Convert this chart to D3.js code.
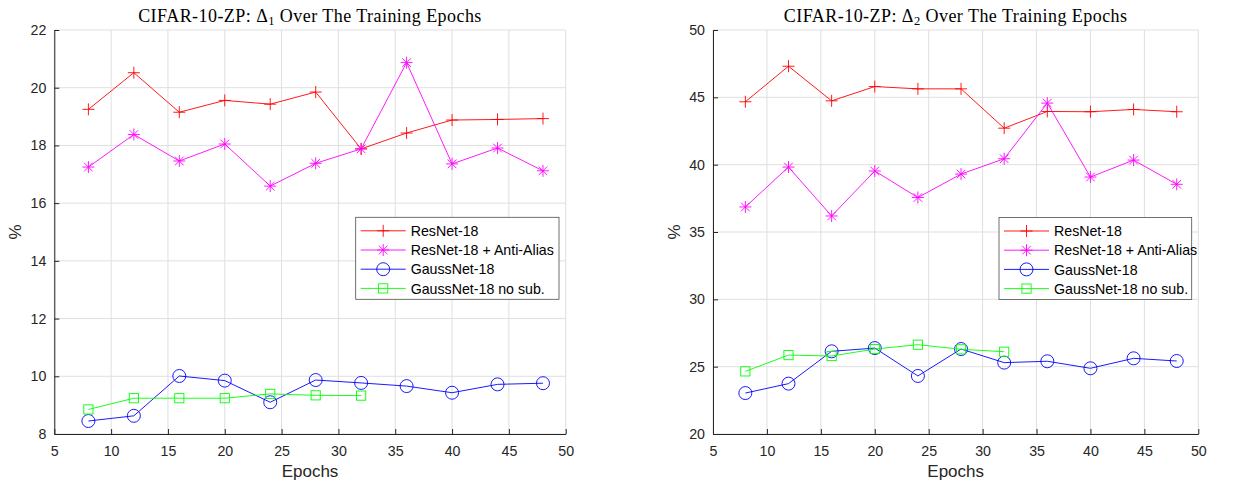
<!DOCTYPE html>
<html>
<head>
<meta charset="utf-8">
<script src="https://cdn.jsdelivr.net/npm/d3@7"></script>
<style>
  html, body { margin: 0; padding: 0; background: #fff; }
  svg { display: block; }
</style>
</head>
<body>
<svg id="chart" width="1238" height="483"></svg>
<script>
// ---- Data ----
const seriesNames = ["ResNet-18", "ResNet-18 + Anti-Alias", "GaussNet-18", "GaussNet-18 no sub."];
const epochs = [8, 12, 16, 20, 24, 28, 32, 36, 40, 44, 48];
const epochsNoSub = [8, 12, 16, 20, 24, 28, 32];

// Left panel: Delta_1
const d1ResNet   = [19.25, 20.52, 19.15, 19.56, 19.43, 19.85, 17.88, 18.43, 18.88, 18.90, 18.93];
const d1AntiAlias= [17.25, 18.38, 17.46, 18.05, 16.59, 17.38, 17.88, 20.87, 17.36, 17.91, 17.12];
const d1Gauss    = [8.45, 8.63, 10.01, 9.85, 9.10, 9.87, 9.77, 9.66, 9.43, 9.72, 9.76];
const d1GaussNoSub = [8.85, 9.24, 9.24, 9.24, 9.39, 9.34, 9.33];

// Right panel: Delta_2
const d2ResNet   = [44.67, 47.31, 44.74, 45.80, 45.63, 45.63, 42.71, 43.95, 43.93, 44.10, 43.93];
const d2AntiAlias= [36.86, 39.82, 36.19, 39.53, 37.56, 39.30, 40.44, 44.57, 39.08, 40.34, 38.54];
const d2Gauss    = [23.04, 23.74, 26.14, 26.38, 24.31, 26.31, 25.30, 25.40, 24.88, 25.62, 25.42];
const d2GaussNoSub = [24.65, 25.86, 25.79, 26.31, 26.63, 26.29, 26.11];

const xTicks = [5, 10, 15, 20, 25, 30, 35, 40, 45, 50];
const yTicksLeft = [8, 10, 12, 14, 16, 18, 20, 22];
const yTicksRight = [20, 25, 30, 35, 40, 45, 50];

const colors = ["#ff0000", "#ff00ff", "#0000ff", "#00ff00"];
const markers = ["plus", "star", "circle", "square"];

const svg = d3.select("#chart");

function drawMarker(g, type, x, y, color) {
  const s = 6;
  if (type === "plus") {
    g.append("path").attr("d", `M${x-s},${y}L${x+s},${y}M${x},${y-s}L${x},${y+s}`)
      .attr("stroke", color).attr("stroke-width", 0.9).attr("fill", "none");
  } else if (type === "star") {
    const d = s * 0.72;
    g.append("path").attr("d",
      `M${x-s},${y}L${x+s},${y}M${x},${y-s}L${x},${y+s}M${x-d},${y-d}L${x+d},${y+d}M${x-d},${y+d}L${x+d},${y-d}`)
      .attr("stroke", color).attr("stroke-width", 0.9).attr("fill", "none");
  } else if (type === "circle") {
    g.append("circle").attr("cx", x).attr("cy", y).attr("r", 6.5)
      .attr("stroke", color).attr("stroke-width", 0.9).attr("fill", "none");
  } else if (type === "square") {
    const h = 4.6;
    g.append("rect").attr("x", x-h).attr("y", y-h).attr("width", 2*h).attr("height", 2*h)
      .attr("stroke", color).attr("stroke-width", 0.9).attr("fill", "none");
  }
}

function panel(cfg) {
  const x = d3.scaleLinear().domain([5, 50]).range([cfg.left, cfg.right]);
  const y = d3.scaleLinear().domain(cfg.yDomain).range([cfg.bottom, cfg.top]);
  const g = svg.append("g");

  // grid
  g.append("g").selectAll("line").data(xTicks).join("line")
    .attr("x1", d => x(d)).attr("x2", d => x(d)).attr("y1", cfg.top).attr("y2", cfg.bottom)
    .attr("stroke", "#dfdfdf").attr("stroke-width", 1);
  g.append("g").selectAll("line").data(cfg.yTicks).join("line")
    .attr("x1", cfg.left).attr("x2", cfg.right).attr("y1", d => y(d)).attr("y2", d => y(d))
    .attr("stroke", "#dfdfdf").attr("stroke-width", 1);

  // axes
  const xAxis = d3.axisBottom(x).tickValues(xTicks).tickSizeInner(-5).tickSizeOuter(0).tickPadding(12);
  const yAxis = d3.axisLeft(y).tickValues(cfg.yTicks).tickSizeInner(-5).tickSizeOuter(0).tickPadding(8);
  const gx = g.append("g").attr("transform", `translate(0,${cfg.bottom})`).call(xAxis);
  const gy = g.append("g").attr("transform", `translate(${cfg.left},0)`).call(yAxis);
  [gx, gy].forEach(a => {
    a.select(".domain").attr("stroke", "#262626").attr("stroke-width", 1);
    a.selectAll(".tick line").attr("stroke", "#262626");
    a.selectAll(".tick text").attr("fill", "#262626")
      .style("font-family", "'Liberation Sans', Arial, sans-serif").style("font-size", "14.2px");
  });

  // series
  const sets = [
    {xs: epochs, ys: cfg.series[0]},
    {xs: epochs, ys: cfg.series[1]},
    {xs: epochs, ys: cfg.series[2]},
    {xs: epochsNoSub, ys: cfg.series[3]}
  ];
  const line = d3.line().x(d => x(d[0])).y(d => y(d[1]));
  sets.forEach((s, i) => {
    const pts = s.xs.map((e, k) => [e, s.ys[k]]);
    const sg = g.append("g");
    sg.append("path").attr("d", line(pts)).attr("fill", "none")
      .attr("stroke", colors[i]).attr("stroke-width", 0.9);
    pts.forEach(p => drawMarker(sg, markers[i], x(p[0]), y(p[1]), colors[i]));
  });

  // title
  const t = g.append("text").attr("x", (cfg.left + cfg.right) / 2).attr("y", 22)
    .attr("text-anchor", "middle")
    .style("font-family", "'Liberation Serif', 'DejaVu Serif', serif").style("font-size", "18px")
    .style("letter-spacing", "0.45px")
    .attr("fill", "#000");
  t.append("tspan").text("CIFAR-10-ZP: Δ");
  t.append("tspan").attr("baseline-shift", "-25%").style("font-size", "12.5px").text(cfg.sub);
  t.append("tspan").text(" Over The Training Epochs");

  // axis labels
  g.append("text").attr("x", (cfg.left + cfg.right) / 2).attr("y", 477)
    .attr("text-anchor", "middle").attr("fill", "#262626")
    .style("font-family", "'Liberation Sans', Arial, sans-serif").style("font-size", "17px")
    .text("Epochs");
  g.append("text").attr("transform", `translate(${cfg.left - 33},${(cfg.top + cfg.bottom) / 2}) rotate(-90)`)
    .attr("text-anchor", "middle").attr("fill", "#262626")
    .style("font-family", "'Liberation Sans', Arial, sans-serif").style("font-size", "17px")
    .text("%");

  // legend
  const lg = g.append("g");
  lg.append("rect").attr("x", cfg.legX).attr("y", cfg.legY).attr("width", cfg.legW).attr("height", 82)
    .attr("fill", "#fff").attr("stroke", "#4d4d4d").attr("stroke-width", 0.8);
  seriesNames.forEach((name, i) => {
    const ly = cfg.legY + 13.5 + i * 19.2;
    const lx0 = cfg.legX + 5, lx1 = cfg.legX + 50;
    lg.append("line").attr("x1", lx0).attr("x2", lx1).attr("y1", ly).attr("y2", ly)
      .attr("stroke", colors[i]).attr("stroke-width", 0.9);
    drawMarker(lg, markers[i], (lx0 + lx1) / 2, ly, colors[i]);
    lg.append("text").attr("x", cfg.legX + 55).attr("y", ly + 5.2).attr("fill", "#000")
      .style("font-family", "'Liberation Sans', Arial, sans-serif").style("font-size", "14.2px")
      .text(name);
  });
}

panel({
  left: 54.3, right: 565.7, top: 30, bottom: 434,
  yDomain: [8, 22], yTicks: yTicksLeft,
  series: [d1ResNet, d1AntiAlias, d1Gauss, d1GaussNoSub],
  sub: "1", legX: 355.7, legY: 217.3, legW: 203.3
});
panel({
  left: 713, right: 1198.3, top: 30, bottom: 434,
  yDomain: [20, 50], yTicks: yTicksRight,
  series: [d2ResNet, d2AntiAlias, d2Gauss, d2GaussNoSub],
  sub: "2", legX: 999, legY: 217.5, legW: 192.7
});
</script>
</body>
</html>
